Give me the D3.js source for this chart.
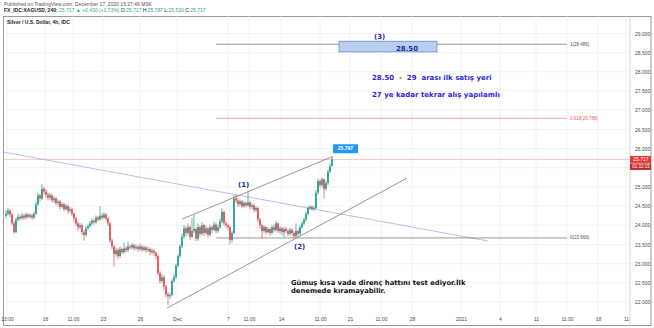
<!DOCTYPE html>
<html lang="en">
<head>
  <meta charset="UTF-8">
  <script src="https://d3js.org/d3.v7.min.js"></script>
  <title>XAGUSD 4h</title>
  <style>
    body { margin: 0; padding: 0; background: #fff; }
    svg { display: block; }
    .tick text { font-family: "Liberation Sans", Arial, sans-serif; font-size: 5px; fill: #4a4a4a; }
  </style>
</head>
<body>
  <div id="chart"></div>
  <script>
    // 4h closes (index 0 = first visible candle)
    let closes = [24.30, 24.38, 24.28, 24.05, 23.82, 24.15, 24.22, 24.18, 24.25, 24.20,
      24.28, 24.22, 24.26, 24.20, 24.30, 24.55, 24.78, 24.70, 24.95, 24.88,
      24.80, 24.72, 24.78, 24.65, 24.70, 24.58, 24.62, 24.48, 24.55, 24.42,
      24.50, 24.38, 24.42, 24.30, 24.18, 24.05, 23.95, 24.00, 23.82, 23.75,
      23.92, 23.98, 24.05, 24.12, 24.08, 24.20, 24.15, 24.25, 24.20, 24.28,
      24.18, 24.05, 23.60, 23.45, 23.25, 23.35, 23.20, 23.38, 23.30, 23.40,
      23.35, 23.45, 23.42, 23.48, 23.40, 23.44, 23.38, 23.45, 23.36, 23.42,
      23.35, 23.38, 23.30, 23.34, 23.28, 23.20, 22.75, 22.55, 22.65, 22.40,
      22.20, 22.15, 22.18, 22.55, 22.65, 22.95, 23.20, 23.45, 23.70, 23.92,
      23.80, 23.95, 23.70, 23.85, 23.90, 23.65, 23.95, 23.78, 24.00, 23.80,
      23.92, 23.75, 23.95, 23.88, 24.02, 23.85, 23.95, 24.10, 24.35, 24.05,
      24.00, 23.95, 23.62, 23.80, 24.70, 24.65, 24.55, 24.62, 24.50, 24.58,
      24.52, 24.60, 24.48, 24.52, 24.40, 24.45, 24.15, 24.00, 23.85, 23.95,
      23.82, 23.90, 23.80, 23.95, 23.88, 24.05, 23.85, 23.92, 23.82, 23.90,
      23.85, 23.78, 23.88, 23.80, 23.72, 23.85, 23.78, 23.95, 24.05, 24.15,
      24.30, 24.45, 24.48, 24.42, 24.45, 24.85, 25.15, 25.05, 25.20, 24.95,
      25.10, 25.40, 25.55, 25.717]
    let highs = [24.40, 24.45, 24.42, 24.32, 24.10, 24.20, 24.30, 24.28, 24.32, 24.30,
      24.33, 24.32, 24.31, 24.30, 24.36, 24.62, 24.85, 24.82, 25.07, 25.00,
      24.95, 24.85, 24.84, 24.82, 24.76, 24.74, 24.68, 24.66, 24.60, 24.58,
      24.56, 24.54, 24.48, 24.46, 24.34, 24.22, 24.10, 24.06, 24.04, 23.88,
      23.98, 24.04, 24.12, 24.18, 24.16, 24.26, 24.24, 24.50, 24.32, 24.34,
      24.32, 24.22, 24.08, 23.65, 23.50, 23.42, 23.40, 23.45, 23.42, 23.55,
      23.46, 23.58, 23.50, 23.54, 23.52, 23.50, 23.48, 23.52, 23.48, 23.47,
      23.46, 23.44, 23.42, 23.40, 23.38, 23.32, 23.24, 22.80, 22.72, 22.70,
      22.45, 22.26, 22.25, 22.60, 22.72, 23.00, 23.25, 23.50, 23.78, 24.00,
      23.98, 24.05, 24.00, 24.20, 24.28, 23.95, 24.05, 24.00, 24.08, 24.04,
      24.00, 23.96, 24.02, 24.00, 24.10, 24.06, 24.02, 24.18, 24.45, 24.38,
      24.10, 24.05, 23.98, 23.85, 24.78, 24.80, 24.70, 24.68, 24.66, 24.64,
      24.62, 24.88, 24.64, 24.58, 24.56, 24.50, 24.48, 24.20, 24.04, 24.00,
      23.98, 23.96, 23.94, 24.00, 24.02, 24.12, 24.08, 23.98, 23.96, 23.96,
      23.95, 23.90, 23.94, 23.92, 23.84, 24.05, 23.90, 24.00, 24.10, 24.20,
      24.36, 24.50, 24.52, 24.52, 24.50, 24.92, 25.22, 25.20, 25.26, 25.22,
      25.16, 25.46, 25.62, 25.787]
    let lows = [24.18, 24.25, 24.22, 24.00, 23.78, 23.80, 24.10, 24.12, 24.15, 24.14,
      24.16, 24.17, 24.18, 24.15, 24.16, 24.26, 24.50, 24.62, 24.66, 24.80,
      24.72, 24.65, 24.66, 24.60, 24.58, 24.52, 24.50, 24.42, 24.44, 24.36,
      24.38, 24.30, 24.32, 24.24, 24.10, 23.98, 23.86, 23.90, 23.74, 23.60,
      23.70, 23.88, 23.94, 24.00, 24.02, 24.04, 24.10, 24.12, 24.15, 24.16,
      24.12, 23.98, 23.55, 23.38, 22.92, 23.18, 23.12, 23.15, 23.24, 23.26,
      23.28, 23.30, 23.36, 23.38, 23.34, 23.35, 23.30, 23.33, 23.30, 23.32,
      23.28, 23.30, 23.22, 23.25, 23.20, 23.12, 22.68, 22.48, 22.50, 22.32,
      22.12, 21.92, 22.08, 22.14, 22.50, 22.60, 22.90, 23.15, 23.40, 23.65,
      23.72, 23.75, 23.62, 23.66, 23.80, 23.58, 23.60, 23.70, 23.74, 23.72,
      23.76, 23.68, 23.70, 23.80, 23.84, 23.78, 23.80, 23.90, 24.05, 24.00,
      23.94, 23.88, 23.50, 23.55, 23.76, 24.58, 24.48, 24.50, 24.44, 24.46,
      24.46, 24.48, 24.42, 24.42, 24.34, 24.34, 24.08, 23.92, 23.66, 23.80,
      23.76, 23.78, 23.72, 23.76, 23.82, 23.84, 23.80, 23.78, 23.74, 23.68,
      23.80, 23.72, 23.74, 23.74, 23.66, 23.68, 23.70, 23.74, 23.90, 24.00,
      24.10, 24.26, 24.40, 24.38, 24.38, 24.42, 24.80, 24.98, 25.00, 24.70,
      24.90, 25.05, 25.36, 25.53]
    let firstOpen = 24.25

    // axis labels (25.500 is hidden behind the last-price tag in the original)
    let gridPrices = [22, 22.5, 23, 23.5, 24, 24.5, 25, 25.5, 26, 26.5, 27, 27.5, 28, 28.5, 29]
    let priceTicks = [22, 22.5, 23, 23.5, 24, 24.5, 25, 26, 26.5, 27, 27.5, 28, 28.5, 29]
    let timeLabels = ["13:00", "16", "11:00", "23", "26", "Dec", "7", "11:00", "14", "11:00",
      "21", "11:00", "28", "2021", "4", "11", "11:00", "18", "11"]
    let timeIdx = [0.5, 19.5, 33.5, 48.5, 67, 85.5, 111, 121.5, 137.5, 157,
      172, 187.5, 203, 227.5, 247, 265, 280.5, 296, 310]

    // drawings, as [candle index, price]
    let trendLine = [[-1.5, 25.91], [241, 23.59]]
    let channelTop = [[88, 24.16], [163.5, 25.797]]
    let channelBottom = [[80.5, 21.84], [200.5, 25.23]]
    let fibFrom = 105, fibTo = 280.5
    let fibPrices = [28.72, 26.79, 23.67]
    let fibNames = ["1(28.486)", "0.618(26.788)", "0(23.669)"]
    let zoneBox = [[166.5, 28.80], [215.5, 28.52]]
    let lastPrice = 25.717

    let width = 654, height = 328
    let svg = d3.select("#chart").append("svg")
      .attr("width", width).attr("height", height)

    let x = d3.scaleLinear().domain([0, 163]).range([6, 332])
    let y = d3.scaleLinear().domain([22, 29]).range([302, 33.5])
    let plotL = 3.5, plotR = 630, plotT = 16.5, plotB = 312

    // header
    svg.append("text").attr("x", 4).attr("y", 5.5)
      .style("font", "5px 'Liberation Sans', Arial").style("fill", "#555")
      .text("Published on TradingView.com, December 17, 2020 15:27:49 MSK")
    let hdr = svg.append("text").attr("x", 4).attr("y", 12)
      .style("font", "5px 'Liberation Sans', Arial").style("fill", "#222")
    hdr.append("tspan").style("font-weight", "bold").text("FX_IDC:XAGUSD, 240: ")
    hdr.append("tspan").style("fill", "#26a69a").text("25.717 ▲ +0.430 (+1.73%) ")
    ;[["O:", "25.717 "], ["H:", "25.787 "], ["L:", "25.530 "], ["C:", "25.717"]].forEach(p => {
      hdr.append("tspan").text(p[0])
      hdr.append("tspan").style("fill", "#26a69a").text(p[1])
    })

    // frame
    svg.append("rect").attr("x", plotL).attr("y", plotT)
      .attr("width", 651 - plotL).attr("height", 325.5 - plotT)
      .attr("fill", "none").attr("stroke", "#9a9a9a").attr("stroke-width", 1)

    let grid = svg.append("g")
    grid.selectAll("line.h").data(gridPrices).enter().append("line")
      .attr("x1", plotL).attr("x2", plotR)
      .attr("y1", d => y(d)).attr("y2", d => y(d))
      .attr("stroke", "#f0f2f6").attr("stroke-width", 1)
    grid.selectAll("line.v").data(timeIdx).enter().append("line")
      .attr("x1", d => x(d)).attr("x2", d => x(d))
      .attr("y1", plotT).attr("y2", plotB)
      .attr("stroke", "#f0f2f6").attr("stroke-width", 1)

    svg.append("line").attr("x1", plotR).attr("x2", plotR)
      .attr("y1", plotT).attr("y2", 325.5).attr("stroke", "#d6d6d6")

    svg.append("text").attr("x", 7).attr("y", 24)
      .style("font", "bold 5px 'Liberation Sans', Arial").style("fill", "#222")
      .text("Silver / U.S. Dollar, 4h, IDC")

    // price axis
    let yAxis = d3.axisRight(y).tickValues(priceTicks).tickSize(0).tickPadding(0)
      .tickFormat(d3.format(".3f"))
    svg.append("g").attr("transform", `translate(${plotR + 5},0)`).call(yAxis)
      .call(g => g.select(".domain").remove())

    // time axis
    let xAxis = d3.axisBottom(x).tickValues(timeIdx).tickSize(0).tickPadding(0)
      .tickFormat((d, i) => timeLabels[i])
    svg.append("g").attr("transform", `translate(0,${317.5})`).call(xAxis)
      .call(g => g.select(".domain").remove())

    // current price line
    svg.append("line").attr("x1", plotL).attr("x2", plotR)
      .attr("y1", y(lastPrice)).attr("y2", y(lastPrice))
      .attr("stroke", "#f3b9bb").attr("stroke-width", 0.8)

    // trend line (purple)
    let line = d3.line().x(d => x(d[0])).y(d => y(d[1]))
    svg.append("path").attr("d", line(trendLine))
      .attr("stroke", "#b5a6e6").attr("stroke-width", 0.8).attr("fill", "none")

    // fib levels
    let fibColors = ["#7d7d7d", "#f08a8a", "#7d7d7d"]
    fibPrices.forEach((p, k) => {
      svg.append("line").attr("x1", x(fibFrom)).attr("x2", x(fibTo))
        .attr("y1", y(p)).attr("y2", y(p))
        .attr("stroke", fibColors[k]).attr("stroke-width", 0.8)
      svg.append("text").attr("x", x(fibTo) + 3).attr("y", y(p) + 1.5)
        .style("font", "4.5px 'Liberation Sans', Arial").style("fill", k == 1 ? "#e06666" : "#555")
        .text(fibNames[k])
    })

    // candles
    let candles = closes.map((c, i) => ({
      i: i, o: i == 0 ? firstOpen : closes[i - 1], c: c, h: highs[i], l: lows[i]
    }))
    let up = "#1f9a8c", down = "#e5484d"
    let cg = svg.append("g")
    cg.selectAll("line").data(candles).enter().append("line")
      .attr("x1", d => x(d.i)).attr("x2", d => x(d.i))
      .attr("y1", d => y(d.h)).attr("y2", d => y(d.l))
      .attr("stroke", d => d.c >= d.o ? up : down).attr("stroke-width", 0.7)
    cg.selectAll("rect").data(candles).enter().append("rect")
      .attr("x", d => x(d.i) - 0.8).attr("width", 1.6)
      .attr("y", d => y(Math.max(d.o, d.c)))
      .attr("height", d => Math.max(0.6, Math.abs(y(d.o) - y(d.c))))
      .attr("fill", d => d.c >= d.o ? up : down)

    // channel
    ;[channelTop, channelBottom].forEach(c => {
      svg.append("path").attr("d", line(c))
        .attr("stroke", "#6b6b6b").attr("stroke-width", 0.7).attr("fill", "none")
    })
    let tipX = x(channelTop[1][0]), tipY = y(channelTop[1][1])
    svg.append("rect").attr("x", tipX).attr("y", tipY - 12).attr("width", 25).attr("height", 9)
      .attr("rx", 1).attr("fill", "#2196f3")
    svg.append("text").attr("x", tipX + 12.5).attr("y", tipY - 6)
      .attr("text-anchor", "middle")
      .style("font", "bold 5px 'Liberation Sans', Arial").style("fill", "#fff")
      .text(channelTop[1][1].toFixed(3))

    // zone box
    svg.append("rect").attr("x", x(zoneBox[0][0])).attr("y", y(zoneBox[0][1]))
      .attr("width", x(zoneBox[1][0]) - x(zoneBox[0][0]))
      .attr("height", y(zoneBox[1][1]) - y(zoneBox[0][1]))
      .attr("fill", "#b9cff2").attr("stroke", "#4a6fb5").attr("stroke-width", 0.6)
    svg.append("text").attr("x", 407).attr("y", 50.5)
      .attr("text-anchor", "middle")
      .style("font", "bold 7px 'DejaVu Sans', sans-serif").style("fill", "#22349a")
      .text("28.50")

    // annotations
    let ann = (tx, ty, t, size, col) => svg.append("text").attr("x", tx).attr("y", ty)
      .style("white-space", "pre")
      .style("font", `bold ${size}px 'DejaVu Sans', sans-serif`).style("fill", col).text(t)
    ann(374, 39, "(3)", 7, "#2a2ab0")
    ann(238, 187, "(1)", 7, "#2a2ab0")
    ann(294, 249, "(2)", 7, "#2a2ab0")
    ann(372, 80, "28.50  -  29  arası ilk satış yeri", 7, "#2b2bd6")
    ann(372, 97, "27 ye kadar tekrar alış yapılamlı", 7, "#2b2bd6")
    ann(291, 285, "Gümuş kısa vade direnç hattını test ediyor.İlk", 6.8, "#111")
    ann(291, 292.5, "denemede kıramayabilir.", 6.8, "#111")

    // last price tag
    svg.append("rect").attr("x", plotR).attr("y", y(lastPrice) - 3.5)
      .attr("width", 21).attr("height", 7).attr("fill", "#e53935")
    svg.append("text").attr("x", plotR + 11).attr("y", y(lastPrice) + 1.7)
      .attr("text-anchor", "middle")
      .style("font", "5px 'Liberation Sans', Arial").style("fill", "#fff").text(lastPrice.toFixed(3))
    svg.append("rect").attr("x", plotR).attr("y", y(lastPrice) + 4)
      .attr("width", 21).attr("height", 6.5).attr("fill", "#c62828")
    svg.append("text").attr("x", plotR + 11).attr("y", y(lastPrice) + 9)
      .attr("text-anchor", "middle")
      .style("font", "4.5px 'Liberation Sans', Arial").style("fill", "#fff").text("01:32:15")
  </script>
</body>
</html>
